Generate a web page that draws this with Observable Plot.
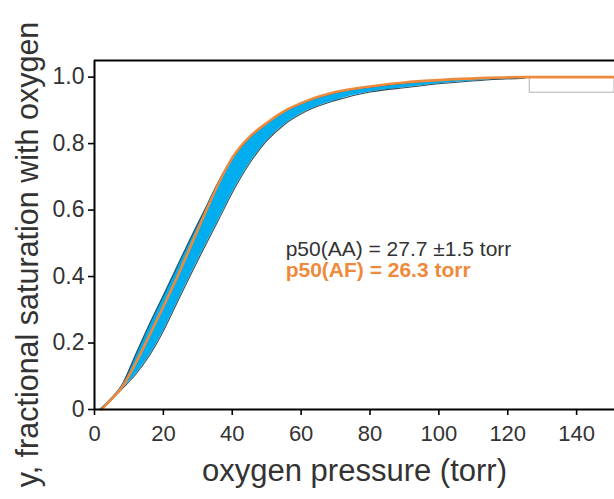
<!DOCTYPE html>
<html><head><meta charset="utf-8">
<script src="https://cdn.jsdelivr.net/npm/d3@7"></script>
<script src="https://cdn.jsdelivr.net/npm/@observablehq/plot@0.6"></script>
<style>html,body{margin:0;padding:0;background:#fff;overflow:hidden}</style>
</head><body><div id="chart"></div>
<script>
// AA band (mean ± SD)
const bandP  = [1.5, 5, 8, 12, 16, 20, 24, 28, 32, 36, 40, 45, 50, 55, 62, 70, 80, 90, 100, 112, 125];
const bandHi = [0, 0.035, 0.074, 0.166, 0.257, 0.343, 0.43, 0.517, 0.6, 0.685, 0.755, 0.817, 0.86, 0.895, 0.928, 0.953, 0.97, 0.982, 0.99, 0.996, 1.0];
const bandLo = [0, 0.03, 0.062, 0.106, 0.163, 0.236, 0.322, 0.407, 0.49, 0.57, 0.652, 0.74, 0.808, 0.856, 0.9, 0.93, 0.955, 0.968, 0.98, 0.99, 0.997];
// AF curve
const afP = [2, 5, 8, 12, 16, 20, 24, 28, 32, 36, 40, 45, 50, 55, 62, 70, 80, 90, 100, 112, 125, 151];
const afS = [0, 0.032, 0.068, 0.14, 0.224, 0.31, 0.398, 0.493, 0.588, 0.68, 0.757, 0.82, 0.862, 0.897, 0.93, 0.955, 0.972, 0.984, 0.991, 0.997, 1.0, 1.0];
// axis ticks
const xTicks = [0, 20, 40, 60, 80, 100, 120, 140];
const yTicks = [0, 0.2, 0.4, 0.6, 0.8, 1.0];
// annotation texts
const noteAA = "p50(AA) = 27.7 \u00B11.5 torr";
const noteAF = "p50(AF) = 26.3 torr";
const notePos = {x: 55.5, yAA: 0.463, yAF: 0.4};
// covered legend box (data units)
const legendBox = [{x1: 126.4, x2: 151, y1: 0.953, y2: 1.0}];

const band = bandP.map((p, i) => ({p, hi: bandHi[i], lo: bandLo[i]}));
const af = afP.map((p, i) => ({p, s: afS[i]}));

const FONT = "'Liberation Sans', Arial, Helvetica, sans-serif";
const BLUE = "#00aeef", EDGE = "#33505c", ORANGE = "#ef8a3c", TXT = "#333333";
const CURVE = "monotone-x";

const chart = Plot.plot({
  width: 614, height: 499,
  marginLeft: 94, marginRight: 0, marginTop: 60, marginBottom: 90,
  style: {fontFamily: FONT, background: "#fff", overflow: "visible"},
  x: {domain: [0, 151], ticks: xTicks},
  y: {domain: [0, 1.05], ticks: yTicks},
  marks: [
    Plot.rect(legendBox, {x1: "x1", x2: "x2", y1: "y1", y2: "y2", fill: "white", stroke: "#bdbdbd", strokeWidth: 1.2}),
    Plot.areaY(band, {x: "p", y1: "lo", y2: "hi", fill: BLUE, curve: CURVE}),
    Plot.line(band, {x: "p", y: "hi", stroke: EDGE, strokeWidth: 1.1, curve: CURVE}),
    Plot.line(band, {x: "p", y: "lo", stroke: EDGE, strokeWidth: 1.1, curve: CURVE}),
    Plot.line(af, {x: "p", y: "s", stroke: ORANGE, strokeWidth: 2.6, curve: CURVE}),
    Plot.ruleX([0], {y1: 0, y2: 1.05, stroke: "black", strokeWidth: 2}),
    Plot.ruleY([0], {stroke: "black", strokeWidth: 2}),
    Plot.ruleY([1.05], {stroke: "black", strokeWidth: 2}),
    Plot.axisX({ticks: xTicks, tickSize: 6, tickPadding: 10, fontSize: 22, color: TXT, stroke: "black", strokeWidth: 1.6, label: null, tickFormat: d => String(d)}),
    Plot.axisY({ticks: yTicks, tickSize: 6, tickPadding: 4, fontSize: 23, color: TXT, stroke: "black", strokeWidth: 1.6, label: null, tickFormat: d => d === 0 ? "0" : d.toFixed(1)}),
    Plot.text([noteAA], {x: () => notePos.x, y: () => notePos.yAA, text: d => d, textAnchor: "start", lineAnchor: "bottom", fontSize: 21, fill: TXT}),
    Plot.text([noteAF], {x: () => notePos.x, y: () => notePos.yAF, text: d => d, textAnchor: "start", lineAnchor: "bottom", fontSize: 21, fontWeight: "bold", fill: ORANGE}),
    Plot.text(["oxygen pressure (torr)"], {frameAnchor: "bottom", text: d => d, dy: 71, lineAnchor: "bottom", fontSize: 31, fill: TXT}),
    Plot.text(["y, fractional saturation with oxygen"], {frameAnchor: "left", text: d => d, dx: -57, dy: 19.5, rotate: -90, textAnchor: "middle", lineAnchor: "bottom", fontSize: 30.5, fill: TXT})
  ]
});
document.getElementById("chart").appendChild(chart);
</script></body></html>
